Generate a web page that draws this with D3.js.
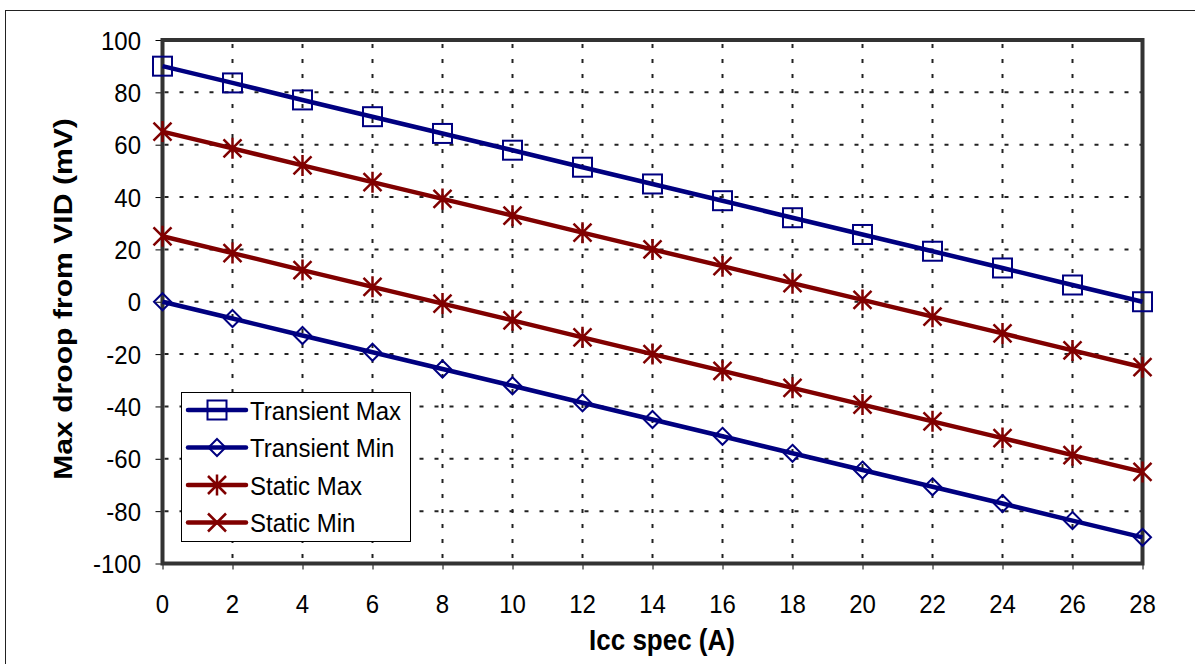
<!DOCTYPE html>
<html>
<head>
<meta charset="utf-8">
<script src="https://cdn.jsdelivr.net/npm/d3@7"></script>
<style>
html,body{margin:0;padding:0;background:#fff;}
svg{display:block;}
text{font-family:"Liberation Sans",Arial,sans-serif;}
</style>
</head>
<body>
<svg id="chart" width="1195" height="664"></svg>
<script>
const xValues = [0,2,4,6,8,10,12,14,16,18,20,22,24,26,28];
const transientMax = [90,83.6,77.1,70.7,64.3,57.9,51.4,45,38.6,32.1,25.7,19.3,12.9,6.4,0];
const transientMin = [0,-6.4,-12.9,-19.3,-25.7,-32.1,-38.6,-45,-51.4,-57.9,-64.3,-70.7,-77.1,-83.6,-90];
const staticMax = [65,58.6,52.1,45.7,39.3,32.9,26.4,20,13.6,7.1,0.7,-5.7,-12.1,-18.6,-25];
const staticMin = [25,18.6,12.1,5.7,-0.7,-7.1,-13.6,-20,-26.4,-32.9,-39.3,-45.7,-52.1,-58.6,-65];
const yTicks = [-100,-80,-60,-40,-20,0,20,40,60,80,100];
const xTicks = [0,2,4,6,8,10,12,14,16,18,20,22,24,26,28];
const seriesNames = ["Transient Max","Transient Min","Static Max","Static Min"];
const xTitle = "Icc spec (A)";
const yTitle = "Max droop from VID (mV)";

const series = [
  {name:seriesNames[0], values:transientMax, color:"#000080", marker:"square", legendMarker:"square"},
  {name:seriesNames[1], values:transientMin, color:"#000080", marker:"diamond", legendMarker:"diamond"},
  {name:seriesNames[2], values:staticMax, color:"#800000", marker:"star", legendMarker:"star"},
  {name:seriesNames[3], values:staticMin, color:"#800000", marker:"star", legendMarker:"x"}
];

const svg = d3.select("#chart");
const L = 162.5, R = 1142.5, T = 40, B = 563.5;
const x = d3.scaleLinear().domain([0,28]).range([L,R]);
const y = d3.scaleLinear().domain([-100,100]).range([B,T]);
const SY = 1.1;      // vertical stretch of normal text
const SYT = 1.16;    // stretch of titles along text direction

// outer chart border
svg.append("rect").attr("x",5.5).attr("y",10.5).attr("width",1300).attr("height",800)
  .attr("fill","none").attr("stroke","#222").attr("stroke-width",1);

// grid
const grid = svg.append("g");
grid.selectAll("line.h").data(yTicks.filter(d=>d>-100&&d<100)).enter().append("line")
  .attr("x1",L).attr("x2",R).attr("y1",d=>y(d)).attr("y2",d=>y(d))
  .attr("stroke","#222").attr("stroke-width",2).attr("stroke-dasharray","4,11").attr("stroke-dashoffset",-2);
grid.selectAll("line.v").data(xTicks.filter(d=>d>0&&d<28)).enter().append("line")
  .attr("x1",d=>x(d)).attr("x2",d=>x(d)).attr("y1",T).attr("y2",B)
  .attr("stroke","#222").attr("stroke-width",2).attr("stroke-dasharray","4,11").attr("stroke-dashoffset",-4);

// axes (tick marks)
const yAxis = d3.axisLeft(y).tickValues(yTicks).tickSize(7).tickFormat("");
const gy = svg.append("g").attr("transform",`translate(${L},0)`).call(yAxis);
gy.select(".domain").remove();
gy.selectAll("line").attr("stroke","#000");
const xAxis = d3.axisBottom(x).tickValues(xTicks).tickSize(6).tickFormat("");
const gx = svg.append("g").attr("transform",`translate(0,${B})`).call(xAxis);
gx.select(".domain").remove();
gx.selectAll("line").attr("stroke","#000");

// tick labels
svg.append("g").selectAll("text").data(yTicks).enter().append("text")
  .attr("transform",d=>`translate(141,${y(d)}) scale(1,${SY})`)
  .attr("text-anchor","end").attr("dy","0.36em").attr("font-size",24).attr("fill","#000")
  .text(d=>String(d));
svg.append("g").selectAll("text").data(xTicks).enter().append("text")
  .attr("transform",d=>`translate(${x(d)},613) scale(1,${SY})`)
  .attr("text-anchor","middle").attr("font-size",24).attr("fill","#000")
  .text(d=>String(d));

// plot frame
svg.append("rect").attr("x",L).attr("y",T).attr("width",R-L).attr("height",B-T)
  .attr("fill","none").attr("stroke","#333").attr("stroke-width",4);

// lines
const line = d3.line().x((d,i)=>x(xValues[i])).y(d=>y(d));
series.forEach(s=>{
  svg.append("path").datum(s.values).attr("d",line).attr("fill","none")
    .attr("stroke",s.color).attr("stroke-width",4.5).attr("stroke-linejoin","round");
});

function drawMarker(g, type, cx, cy, color){
  if(type==="square"){
    g.append("rect").attr("x",cx-9.5).attr("y",cy-9.5).attr("width",19).attr("height",19)
      .attr("fill","none").attr("stroke",color).attr("stroke-width",2);
  } else if(type==="diamond"){
    const r=8.5;
    g.append("path").attr("d",`M${cx},${cy-r}L${cx+r},${cy}L${cx},${cy+r}L${cx-r},${cy}Z`)
      .attr("fill","none").attr("stroke",color).attr("stroke-width",2);
  } else if(type==="star"){
    const r=9;
    g.append("path").attr("d",`M${cx-r},${cy-r}L${cx+r},${cy+r}M${cx-r},${cy+r}L${cx+r},${cy-r}M${cx},${cy-r-1.5}L${cx},${cy+r+1.5}`)
      .attr("stroke",color).attr("stroke-width",2.5);
  } else if(type==="x"){
    const r=9;
    g.append("path").attr("d",`M${cx-r},${cy-r}L${cx+r},${cy+r}M${cx-r},${cy+r}L${cx+r},${cy-r}`)
      .attr("stroke",color).attr("stroke-width",2.5);
  }
}

series.forEach(s=>{
  const g = svg.append("g");
  s.values.forEach((v,i)=>drawMarker(g,s.marker,x(xValues[i]),y(v),s.color));
});

// legend
const lg = svg.append("g");
lg.append("rect").attr("x",181.5).attr("y",392.5).attr("width",229).attr("height",149)
  .attr("fill","#fff").attr("stroke","#000").attr("stroke-width",1);
series.forEach((s,i)=>{
  const cy = 410 + i*37.5;
  lg.append("line").attr("x1",188).attr("x2",246).attr("y1",cy).attr("y2",cy)
    .attr("stroke",s.color).attr("stroke-width",4.5).attr("stroke-linecap","round");
  drawMarker(lg, s.legendMarker, 217, cy, s.color);
  lg.append("text").attr("transform",`translate(250,${cy}) scale(1,${SY})`)
    .attr("dy","0.36em").attr("font-size",24).attr("fill","#000").text(s.name);
});

// titles
svg.append("text").attr("transform",`translate(662,650) scale(1,${SY})`).attr("text-anchor","middle")
  .attr("font-size",26).attr("font-weight","bold").text(xTitle);
svg.append("text").attr("transform",`translate(72,299) rotate(-90) scale(${SYT},1)`).attr("text-anchor","middle")
  .attr("font-size",26).attr("font-weight","bold").text(yTitle);
</script>
</body>
</html>
